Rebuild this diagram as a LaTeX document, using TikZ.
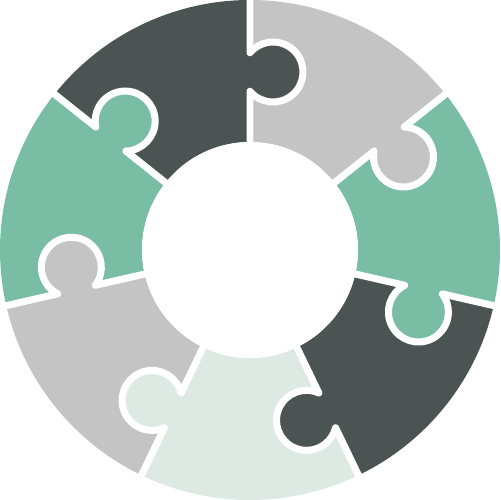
\documentclass[tikz,border=0pt]{standalone}
\usepackage{tikz}
\usetikzlibrary{calc}
\definecolor{piecedark}{RGB}{75,84,83}
\definecolor{piecegreen}{RGB}{121,190,164}
\definecolor{piecegray}{RGB}{196,196,196}
\definecolor{piecepale}{RGB}{221,234,228}

\begin{document}
\begin{tikzpicture}[x=0.02cm, y=0.02cm,
		cutline/.style={white, line width=0.14cm, line join=round, line cap=round}]
		\useasboundingbox (-250,-250) rectangle (250,250);

		\foreach \a/\col in {90/piecedark, 38.571/piecegray, -12.857/piecegreen, -64.286/piecedark, -115.714/piecepale, -167.143/piecegray, -218.571/piecegreen}{
			\fill[\col] (\a:108) -- (\a:250) arc[start angle=\a, end angle=\a+51.429, radius=250] -- (\a+51.429:108) arc[start angle=\a+51.429, end angle=\a, radius=108] -- cycle;
		}

		\foreach \a/\col in {90/piecedark, 38.571/piecegray, -12.857/piecegreen, -64.286/piecedark, -115.714/piecepale, -167.143/piecegray, -218.571/piecegreen}{
			\begin{scope}[rotate=\a]
				\fill[\col] (178,-23) circle[radius=30];
				\draw[cutline] (100,0) -- (158.72,0) arc[start angle=130, end angle=410, radius=30] -- (262,0);
			\end{scope}
		}

		\fill[white] (0,0) circle[radius=108];

	\end{tikzpicture}
\end{document}
